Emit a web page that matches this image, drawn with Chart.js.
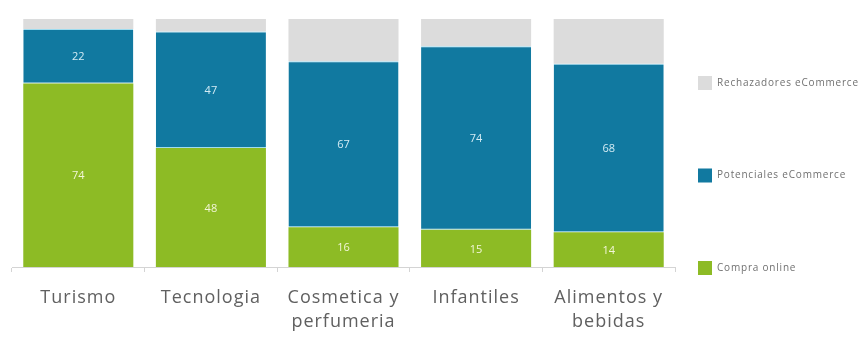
<!DOCTYPE html>
<html>
<head>
<meta charset="utf-8">
<script src="https://cdn.jsdelivr.net/npm/chart.js@4/dist/chart.umd.min.js"></script>
<style>
  html, body { margin: 0; padding: 0; background: #ffffff; }
  #wrap { position: relative; width: 868px; height: 341px; }
</style>
</head>
<body>
<div id="wrap"><canvas id="c" width="868" height="341"></canvas></div>
<script>
// Categories (x axis) and the share of each customer segment, in percent
const categories = ['Turismo', 'Tecnologia', ['Cosmetica y', 'perfumeria'], 'Infantiles', ['Alimentos y', 'bebidas']];
const compraOnline = [74, 48, 16, 15, 14];
const potenciales  = [22, 47, 67, 74, 68];
const rechazadores = [4, 5, 17, 11, 18];

const seriesNames = ['Compra online', 'Potenciales eCommerce', 'Rechazadores eCommerce'];
const seriesColors = ['#8dbb25', '#1179a0', '#dcdcdc'];
const labelColors = ['#f2f6d8', '#d4ecf4', null];

// Slightly tracked-out lettering for the axis labels
const tracking = {
  id: 'tracking',
  beforeDraw(chart) { chart.ctx.letterSpacing = '1px'; }
};

// Value labels centred inside the labelled segments
const valueLabels = {
  id: 'valueLabels',
  afterDatasetsDraw(chart) {
    const ctx = chart.ctx;
    ctx.save();
    ctx.letterSpacing = '0px';
    ctx.font = '11px "Open Sans", sans-serif';
    ctx.textAlign = 'center';
    ctx.textBaseline = 'middle';
    chart.data.datasets.forEach((ds, di) => {
      if (!labelColors[di]) return;
      const meta = chart.getDatasetMeta(di);
      meta.data.forEach((bar, i) => {
        const p = bar.getCenterPoint();
        ctx.fillStyle = labelColors[di];
        ctx.fillText(String(ds.data[i]), p.x, p.y + 1);
      });
    });
    ctx.restore();
  }
};

// Legend spread down the right side, one entry per segment level
const sideLegend = {
  id: 'sideLegend',
  afterDraw(chart) {
    const ctx = chart.ctx;
    const area = chart.chartArea;
    const x0 = area.right + 23;
    const step = 92.5;
    ctx.save();
    ctx.letterSpacing = '0.8px';
    ctx.font = '10px "Open Sans", sans-serif';
    ctx.textBaseline = 'middle';
    ctx.textAlign = 'left';
    seriesNames.forEach((name, i) => {
      const cy = area.bottom + 1 - i * step;
      ctx.fillStyle = seriesColors[i];
      ctx.fillRect(x0, cy - 7, 14, 14);
      ctx.fillStyle = '#707070';
      ctx.fillText(name, x0 + 19, cy);
    });
    ctx.restore();
  }
};

new Chart(document.getElementById('c'), {
  type: 'bar',
  data: {
    labels: categories,
    datasets: [
      { label: seriesNames[0], data: compraOnline, backgroundColor: seriesColors[0],
        borderWidth: 0 },
      { label: seriesNames[1], data: potenciales, backgroundColor: seriesColors[1],
        borderColor: '#9fdcef', borderWidth: { top: 1, bottom: 1, left: 0, right: 0 }, borderSkipped: false },
      { label: seriesNames[2], data: rechazadores, backgroundColor: seriesColors[2],
        borderWidth: 0 }
    ]
  },
  options: {
    responsive: false,
    animation: false,
    events: [],
    layout: { padding: { top: 19, left: 12, right: 193, bottom: 0 } },
    datasets: { bar: { categoryPercentage: 1, barPercentage: 0.83 } },
    plugins: { legend: { display: false }, tooltip: { enabled: false } },
    scales: {
      x: {
        stacked: true,
        afterFit(scale) { scale.height = 74; },
        grid: { display: true, drawOnChartArea: false, tickLength: 5, color: '#d4d4d4', offset: true },
        border: { display: true, color: '#d4d4d4', width: 1 },
        ticks: {
          padding: 14,
          color: '#606060',
          maxRotation: 0,
          autoSkip: false,
          font: { family: '"Open Sans", sans-serif', size: 18, lineHeight: 1.34 }
        }
      },
      y: {
        stacked: true,
        display: false,
        min: 0,
        max: 100
      }
    }
  },
  plugins: [tracking, valueLabels, sideLegend]
});
</script>
</body>
</html>
